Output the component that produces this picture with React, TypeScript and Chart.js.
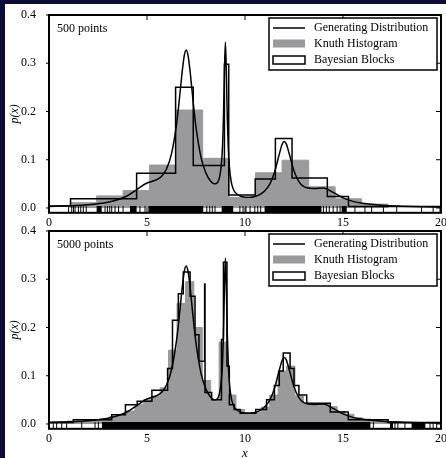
import React, { useEffect, useRef } from "react";
import { Chart, registerables } from "chart.js";

Chart.register(...registerables);

const FONT = "'Liberation Serif', 'Times New Roman', serif";
const GRAY = "#9a9a9c";
const NAVY = "#0b0b3c";

// ---- tick labels ----
const xTicks = [0, 5, 10, 15, 20];
const yTicks = [0, 0.1, 0.2, 0.3, 0.4];
const legendLabels = ["Generating Distribution", "Knuth Histogram", "Bayesian Blocks"];
const panelLabels = ["500 points", "5000 points"];

// ---- generating distribution ----
const curveX = [0, 1, 2, 3, 3.5, 4, 4.5, 5, 5.5, 5.75, 6, 6.25, 6.5, 6.6, 6.75, 6.8, 6.9, 7, 7.1, 7.2, 7.25, 7.4, 7.5, 7.75, 8, 8.25, 8.4, 8.5, 8.6, 8.7, 8.8, 8.85, 8.9, 8.95, 9, 9.05, 9.1, 9.15, 9.2, 9.3, 9.4, 9.5, 9.75, 10, 10.25, 10.5, 10.75, 11, 11.25, 11.5, 11.75, 11.9, 12, 12.1, 12.25, 12.5, 12.75, 13, 13.5, 14, 14.5, 15, 15.5, 16, 17, 18, 19, 20];
const curveY = [0.0033, 0.0046, 0.0069, 0.012, 0.017, 0.0254, 0.0387, 0.0517, 0.0587, 0.0658, 0.0813, 0.1122, 0.1711, 0.2053, 0.2648, 0.2842, 0.3155, 0.3273, 0.3149, 0.2828, 0.263, 0.2022, 0.1673, 0.1061, 0.073, 0.0553, 0.0505, 0.05, 0.0529, 0.0633, 0.0927, 0.1259, 0.1861, 0.2806, 0.3435, 0.279, 0.183, 0.1211, 0.0862, 0.0534, 0.0394, 0.0323, 0.0249, 0.0224, 0.0222, 0.0239, 0.0278, 0.0353, 0.0486, 0.0732, 0.1116, 0.1326, 0.1379, 0.1334, 0.1134, 0.0769, 0.0547, 0.0443, 0.0406, 0.0414, 0.0322, 0.0209, 0.0137, 0.0097, 0.0055, 0.0037, 0.0026, 0.002];

// ---- 500 points ----
const knuthTopEdges = [1.08, 2.43, 3.78, 5.13, 6.49, 7.84, 9.19, 10.54, 11.89, 13.25, 14.6, 15.95, 17.3];
const knuthTopHeights = [0.011, 0.025, 0.036, 0.089, 0.203, 0.103, 0.022, 0.073, 0.099, 0.044, 0.019, 0.008];
const blocksTopEdges = [0, 1.1, 4.47, 6.46, 7.36, 8.95, 9.17, 10.52, 11.55, 12.4, 14.2, 15.28, 20];
const blocksTopHeights = [0.004, 0.019, 0.072, 0.25, 0.088, 0.298, 0.027, 0.06, 0.144, 0.062, 0.024, 0.003];
const rugTopDense = [[2.43, 2.69], [4.13, 4.47], [5.07, 7.87], [8.81, 9.4], [11.0, 13.9], [14.93, 15.19]];
const rugTopSingle = [1.0, 1.16, 1.25, 1.33, 1.5, 1.62, 1.75, 1.9, 2.86, 2.98, 3.1, 3.2, 3.37, 3.55, 3.78, 4.64, 4.9, 8.05, 8.2, 8.33, 8.47, 9.74, 9.9, 10.05, 10.26, 10.5, 10.65, 10.8, 14.0, 14.15, 14.3, 14.5, 14.7, 14.85, 15.61, 16.12, 16.46, 17.06, 17.74, 19.01, 19.6, 19.95];

// ---- 5000 points ----
const knuthBottomEdges = [0.08, 0.51, 0.94, 1.37, 1.8, 2.23, 2.66, 3.09, 3.52, 3.95, 4.38, 4.81, 5.24, 5.67, 6.1, 6.53, 6.96, 7.39, 7.82, 8.25, 8.68, 9.11, 9.54, 9.97, 10.4, 10.83, 11.26, 11.69, 12.12, 12.55, 12.98, 13.41, 13.84, 14.27, 14.7, 15.13, 15.56, 15.99, 16.42, 16.85, 17.28, 17.71, 18.14, 18.57, 19.0];
const knuthBottomHeights = [0.004, 0.005, 0.006, 0.006, 0.007, 0.008, 0.011, 0.015, 0.019, 0.027, 0.04, 0.05, 0.058, 0.075, 0.153, 0.25, 0.295, 0.2, 0.09, 0.05, 0.17, 0.06, 0.03, 0.022, 0.024, 0.035, 0.06, 0.11, 0.12, 0.058, 0.043, 0.038, 0.042, 0.036, 0.026, 0.02, 0.013, 0.01, 0.008, 0.006, 0.005, 0.004, 0.003, 0.003];
const blocksBottomEdges = [0, 1.24, 3.2, 3.9, 4.5, 5.25, 6.05, 6.3, 6.6, 6.85, 7.2, 7.45, 7.65, 7.94, 7.96, 8.3, 8.8, 8.9, 9.08, 9.2, 9.45, 9.75, 10.55, 11.1, 11.5, 11.75, 11.95, 12.3, 12.5, 12.75, 13.15, 14.35, 15.27, 17.3, 20];
const blocksBottomHeights = [0.003, 0.009, 0.019, 0.04, 0.047, 0.07, 0.115, 0.215, 0.27, 0.315, 0.265, 0.185, 0.13, 0.29, 0.065, 0.05, 0.175, 0.335, 0.12, 0.04, 0.03, 0.022, 0.03, 0.05, 0.08, 0.11, 0.147, 0.115, 0.08, 0.06, 0.043, 0.025, 0.009, 0.003];
const rugBottomDense = [[2.7, 16.4], [17.4, 17.55], [18.5, 19.2]];
const rugBottomSingle = [0.22, 0.39, 0.65, 0.9, 1.67, 2.35, 2.52, 16.55, 17.65, 17.8, 18.16, 19.44, 19.6, 19.78];

const RUG_Y = -0.004;

type Pt = { x: number; y: number | null };

function zip(xs: number[], ys: number[]): Pt[] {
  return xs.map((x, i) => ({ x, y: ys[i] }));
}
function steps(edges: number[], heights: number[]): Pt[] {
  const pts: Pt[] = [{ x: edges[0], y: 0 }];
  heights.forEach((h, i) => pts.push({ x: edges[i], y: h }));
  pts.push({ x: edges[edges.length - 1], y: heights[heights.length - 1] });
  pts.push({ x: edges[edges.length - 1], y: 0 });
  return pts;
}
function segments(intervals: number[][]): Pt[] {
  const pts: Pt[] = [];
  intervals.forEach(([a, b]) => {
    pts.push({ x: a, y: RUG_Y });
    pts.push({ x: b, y: RUG_Y });
    pts.push({ x: b, y: null });
  });
  return pts;
}

const framePlugin = {
  id: "frame",
  afterDraw(chart: any, _args: any, opts: any) {
    const { ctx, chartArea: a } = chart;
    const xs = chart.scales.x;
    const ys = chart.scales.y;
    ctx.save();
    ctx.strokeStyle = "#000";
    ctx.lineWidth = 1;
    ctx.beginPath();
    xTicks.forEach((v) => {
      const px = xs.getPixelForValue(v);
      ctx.moveTo(px, a.top);
      ctx.lineTo(px, a.top + 5);
      ctx.moveTo(px, a.bottom);
      ctx.lineTo(px, a.bottom - 5);
    });
    yTicks.forEach((v) => {
      const py = ys.getPixelForValue(v);
      ctx.moveTo(a.left - 3, py);
      ctx.lineTo(a.left, py);
      ctx.moveTo(a.right, py);
      ctx.lineTo(a.right - 5, py);
    });
    ctx.stroke();
    ctx.lineWidth = 2;
    ctx.strokeRect(a.left, a.top, a.right - a.left, a.bottom - a.top);

    ctx.fillStyle = "#000";
    ctx.font = `12px ${FONT}`;
    ctx.textBaseline = "middle";
    ctx.textAlign = "left";
    ctx.fillText(opts.label, a.left + 8, a.top + 14);

    const bw = 168;
    const bh = 52;
    const bx = a.right - 4 - bw;
    const by = a.top + 3;
    ctx.fillStyle = "#fff";
    ctx.fillRect(bx, by, bw, bh);
    ctx.lineWidth = 1.5;
    ctx.strokeRect(bx, by, bw, bh);
    const rows = [by + 10, by + 25.5, by + 42];
    const hx0 = bx + 4;
    const hx1 = bx + 36;
    const tx = bx + 45;
    ctx.beginPath();
    ctx.moveTo(hx0, rows[0]);
    ctx.lineTo(hx1, rows[0]);
    ctx.stroke();
    ctx.fillStyle = GRAY;
    ctx.fillRect(hx0, rows[1] - 4, hx1 - hx0, 8);
    ctx.fillStyle = "#fff";
    ctx.fillRect(hx0, rows[2] - 4, hx1 - hx0, 8);
    ctx.strokeRect(hx0, rows[2] - 4, hx1 - hx0, 8);
    ctx.fillStyle = "#000";
    legendLabels.forEach((t, i) => ctx.fillText(t, tx, rows[i]));
    ctx.restore();
  },
};

type Spec = {
  label: string;
  knEdges: number[];
  knHeights: number[];
  bbEdges: number[];
  bbHeights: number[];
  rugDense: number[][];
  rugSingle: number[];
  padding: { top: number; bottom: number; left: number; right: number };
  xAxisHeight: number;
  xTitle: boolean;
};

function makeConfig(p: Spec): any {
  const tickFont = { family: FONT, size: 12 };
  return {
    type: "line",
    data: {
      datasets: [
        {
          label: "rug",
          data: p.rugSingle.map((x) => ({ x, y: RUG_Y })),
          showLine: false,
          pointStyle: "line",
          rotation: 90,
          pointRadius: 4,
          pointBorderWidth: 1,
          pointBorderColor: "#000",
          borderColor: "#000",
          clip: 0,
        },
        {
          label: "rugDense",
          data: segments(p.rugDense),
          borderColor: "#000",
          borderWidth: 8,
          borderCapStyle: "butt",
          pointRadius: 0,
          spanGaps: false,
          clip: 0,
        },
        {
          label: legendLabels[2],
          data: steps(p.bbEdges, p.bbHeights),
          stepped: true,
          borderColor: "#000",
          borderWidth: 1.5,
          pointRadius: 0,
          fill: false,
        },
        {
          label: legendLabels[0],
          data: zip(curveX, curveY),
          borderColor: "#000",
          borderWidth: 1.5,
          pointRadius: 0,
          cubicInterpolationMode: "monotone",
          fill: false,
        },
        {
          label: legendLabels[1],
          data: steps(p.knEdges, p.knHeights),
          stepped: true,
          borderColor: GRAY,
          backgroundColor: GRAY,
          borderWidth: 1,
          pointRadius: 0,
          fill: "origin",
        },
      ],
    },
    options: {
      animation: false,
      responsive: false,
      devicePixelRatio: 1,
      events: [],
      layout: { padding: p.padding },
      plugins: {
        legend: { display: false },
        tooltip: { enabled: false },
        frame: { label: p.label },
      },
      scales: {
        x: {
          type: "linear",
          min: 0,
          max: 20,
          grid: { display: false },
          border: { display: false },
          ticks: {
            font: tickFont,
            color: "#000",
            padding: -5,
            maxRotation: 0,
            autoSkip: false,
            callback: (v: number) => String(v),
          },
          afterBuildTicks: (s: any) => {
            s.ticks = xTicks.map((v) => ({ value: v }));
          },
          afterFit: (s: any) => {
            s.height = p.xAxisHeight;
            s.paddingLeft = 0;
            s.paddingRight = 0;
          },
          title: p.xTitle
            ? {
                display: true,
                text: "x",
                color: "#000",
                font: { family: FONT, size: 13, style: "italic", lineHeight: 1 },
                padding: { top: 0, bottom: -2 },
              }
            : { display: false },
        },
        y: {
          type: "linear",
          min: -0.01,
          max: 0.4,
          grid: { display: false },
          border: { display: false },
          ticks: {
            font: tickFont,
            color: "#000",
            padding: 5,
            callback: (v: number) => v.toFixed(1),
          },
          afterBuildTicks: (s: any) => {
            s.ticks = yTicks.map((v) => ({ value: v }));
          },
          afterFit: (s: any) => {
            s.width = 49;
          },
          title: {
            display: true,
            text: "p(x)",
            color: "#000",
            font: { family: FONT, size: 12, style: "italic" },
            padding: { top: 8, bottom: 0 },
          },
        },
      },
    },
    plugins: [framePlugin],
  };
}

const topSpec: Spec = {
  label: panelLabels[0],
  knEdges: knuthTopEdges,
  knHeights: knuthTopHeights,
  bbEdges: blocksTopEdges,
  bbHeights: blocksTopHeights,
  rugDense: rugTopDense,
  rugSingle: rugTopSingle,
  padding: { top: 15, left: 0, right: 5, bottom: 225.2 },
  xAxisHeight: 20,
  xTitle: false,
};

const bottomSpec: Spec = {
  label: panelLabels[1],
  knEdges: knuthBottomEdges,
  knHeights: knuthBottomHeights,
  bbEdges: blocksBottomEdges,
  bbHeights: blocksBottomHeights,
  rugDense: rugBottomDense,
  rugSingle: rugBottomSingle,
  padding: { top: 231, left: 0, right: 5, bottom: 0 },
  xAxisHeight: 29.2,
  xTitle: true,
};

export default function App() {
  const c1 = useRef<HTMLCanvasElement>(null);
  const c2 = useRef<HTMLCanvasElement>(null);

  useEffect(() => {
    const ch1 = new Chart(c1.current as HTMLCanvasElement, makeConfig(topSpec));
    const ch2 = new Chart(c2.current as HTMLCanvasElement, makeConfig(bottomSpec));
    return () => {
      ch1.destroy();
      ch2.destroy();
    };
  }, []);

  const canvasStyle: React.CSSProperties = { position: "absolute", left: 0, top: 0, width: 446, height: 458 };
  return (
    <div style={{ position: "fixed", left: 0, top: 0, width: 446, height: 458, background: NAVY, overflow: "hidden" }}>
      <div style={{ position: "absolute", left: 5, top: 4, right: 0, bottom: 0, background: "#fff" }} />
      <canvas ref={c1} width={446} height={458} style={canvasStyle} />
      <canvas ref={c2} width={446} height={458} style={canvasStyle} />
    </div>
  );
}
